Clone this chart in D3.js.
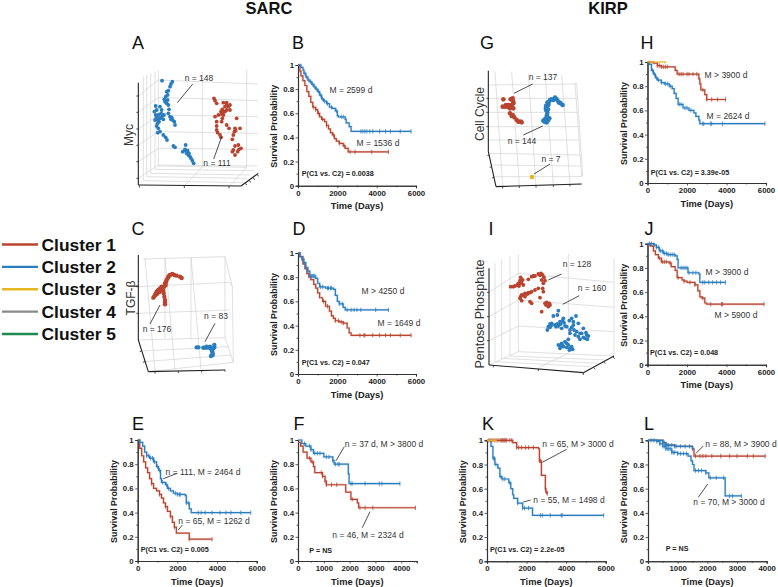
<!DOCTYPE html>
<html><head><meta charset="utf-8">
<script src="https://cdnjs.cloudflare.com/ajax/libs/d3/7.8.5/d3.min.js"></script>
<style>html,body{margin:0;padding:0;background:#fff}svg{display:block}text{font-family:"Liberation Sans",Arial,sans-serif;fill:#222}</style>
</head><body><svg id="c" width="778" height="587"></svg>
<script>
// ---- legend
const clusterNames=["Cluster 1","Cluster 2","Cluster 3","Cluster 4","Cluster 5"];
const clusterColors=["#b8442f","#2a7dbf","#e6b520","#8a8a8a","#1f8a4f"];
const [RED,BLUE,YEL]=clusterColors;
const yTicks=[0,0.2,0.4,0.6,0.8,1];
const xTicks6000=[0,2000,4000,6000];
const xTicks1000=[0,1000,2000,3000,4000];

// ---- survival curves: [days, probability]
const bBlue=[[0,1],[150,.98],[250,.96],[300,.93],[400,.9],[500,.875],[600,.86],[700,.84],[800,.82],[900,.8],[1000,.78],[1100,.75],[1200,.72],[1300,.7],[1450,.68],[1600,.65],[1750,.64],[1900,.62],[2000,.58],[2050,.57],[2400,.55],[2450,.52],[2600,.49],[2700,.45],[5750,.45]];
const bBlueCens=[350,450,550,650,750,850,950,1050,1150,1250,1350,1500,1700,1950,2200,2300,3200,3300,3400,3500,3650,3800,4150,4450,4700,5200,5750];
const bRed=[[0,1],[100,.95],[150,.91],[250,.87],[350,.83],[450,.78],[550,.74],[650,.69],[750,.65],[900,.63],[1000,.6],[1100,.57],[1200,.55],[1350,.53],[1450,.5],[1550,.47],[1650,.44],[1750,.42],[1850,.39],[1950,.37],[2100,.35],[2300,.33],[2400,.31],[2550,.28],[4600,.28]];
const bRedCens=[800,900,1050,1250,1450,1800,2100,2350,2650,2900,3750,4600];
const dBlue=[[0,1],[100,.97],[200,.95],[300,.92],[400,.88],[500,.85],[600,.81],[900,.79],[1000,.75],[1100,.72],[1400,.71],[1800,.7],[1900,.65],[2000,.6],[2100,.58],[2300,.55],[2400,.53],[4600,.53]];
const dBlueCens=[200,300,400,500,650,700,750,800,850,1150,1250,1500,1550,1650,1700,2100,2250,2500,2700,2850,3000,3200,3950,4600];
const dRed=[[0,1],[100,.97],[250,.91],[350,.87],[450,.83],[550,.8],[650,.78],[800,.74],[900,.71],[1000,.67],[1100,.63],[1250,.6],[1400,.56],[1600,.52],[1700,.48],[1800,.46],[1900,.44],[2100,.43],[2300,.42],[2500,.38],[2600,.34],[2700,.32],[5750,.32]];
const dRedCens=[1300,1500,1900,2050,2200,2300,3150,3350,3400,3800,4150,4450,4700,5200,5750];
const eBlue=[[0,1],[100,.98],[250,.95],[350,.9],[450,.87],[600,.85],[800,.82],[950,.78],[1050,.75],[1150,.68],[1200,.65],[1400,.63],[1500,.6],[1650,.58],[1800,.56],[2000,.55],[2400,.54],[2450,.48],[2600,.43],[2700,.4],[5700,.4]];
const eBlueCens=[450,550,650,750,850,1000,1100,1250,1450,1550,1900,2000,2100,2150,2450,2550,3050,3200,3400,3750,4150,4450,4700,5200,5700];
const eRed=[[0,1],[100,.93],[200,.87],[300,.82],[400,.77],[500,.73],[600,.68],[700,.64],[800,.6],[950,.58],[1100,.55],[1200,.52],[1300,.48],[1400,.45],[1500,.41],[1650,.37],[1750,.32],[1850,.28],[1950,.23],[2600,.18],[3750,.18]];
const eRedCens=[700,1100,1400,1650,1850,2600,3750];
const fBlue=[[0,1],[150,.97],[300,.95],[500,.92],[600,.89],[1000,.86],[1350,.83],[1400,.8],[1950,.72],[1980,.64],[3950,.64]];
const fBlueCens=[250,450,500,650,750,850,1100,1200,1350,1450,1550,1600,2050,2100,2600,3150,3250,3950];
const fRed=[[0,.98],[100,.95],[200,.9],[350,.85],[500,.82],[600,.78],[650,.73],[950,.7],[1050,.66],[1100,.63],[1850,.57],[2050,.51],[2300,.48],[2350,.44],[4550,.44]];
const fRedCens=[450,550,900,950,1050,1100,1300,1500,2100,2400,2600,2900,4550];
const hRed=[[0,1],[300,.99],[500,.97],[700,.96],[1400,.93],[1500,.9],[2600,.86],[2650,.82],[2700,.77],[2900,.73],[3000,.69],[3950,.69]];
const hRedCens=[500,600,700,800,900,1000,1600,1700,1800,2000,2100,2300,2500,2800,3000,3250,3550,3950];
const hBlue=[[0,1],[100,.98],[200,.93],[300,.9],[400,.87],[500,.85],[700,.83],[850,.82],[1100,.8],[1250,.78],[1350,.74],[1450,.7],[1550,.65],[1800,.62],[2100,.6],[2350,.58],[2450,.55],[2600,.52],[2650,.49],[5950,.49]];
const hBlueCens=[250,350,450,550,700,900,1000,1150,1600,1700,1900,2000,2200,2800,2850,3200,3250,3800,5950];
const hYellow=[[0,1],[900,1],[900,.99]];
const jBlue=[[0,1],[300,.99],[450,.97],[600,.94],[800,.92],[1000,.91],[1400,.9],[1500,.87],[1550,.8],[2000,.8],[2050,.76],[2600,.75],[2650,.68],[3950,.68]];
const jBlueCens=[100,200,350,450,550,650,750,850,950,1050,1150,1250,1350,1700,1800,1900,2000,2100,2300,2450,2800,2900,3100,3300,3500,3700,3950];
const jRed=[[0,1],[150,.98],[300,.94],[400,.91],[550,.88],[700,.85],[1100,.84],[1200,.81],[1400,.78],[1500,.72],[1750,.7],[1850,.69],[2000,.68],[2400,.66],[2550,.61],[2650,.56],[2750,.55],[2900,.51],[3000,.5],[5900,.5]];
const jRedCens=[600,750,850,950,1150,1550,1850,2150,2400,2800,3200,3750,3800,5900];
const kRed=[[0,1],[1300,.98],[1500,.94],[2600,.93],[2650,.83],[2750,.71],[2950,.6],[2980,.57],[3050,.56]];
const kRedCens=[100,200,300,400,500,600,700,750,800,850,900,950,1000,1150,1250,1500,1600,1750,1950,2100,2350,2650,2700,2950,3000,3050];
const kBlue=[[0,1],[200,.95],[300,.85],[400,.8],[550,.77],[650,.7],[750,.68],[1100,.65],[1200,.6],[1300,.55],[1350,.52],[1550,.48],[1800,.44],[2300,.38],[5900,.38]];
const kBlueCens=[320,380,450,700,800,900,1150,1550,1800,1900,2100,2700,2800,3200,3750,3800,5900];
const kYellow=[[0,1],[500,1]];
const lRed=[[0,1],[500,.98],[600,.96],[900,.95],[1500,.93],[1550,.87],[3950,.87]];
const lRedCens=[1600,1750,1850,1950,2150,2450,2750,3000,3350,3550,3950];
const lBlue=[[0,1],[300,.99],[400,.97],[500,.95],[600,.93],[800,.9],[1000,.89],[1350,.87],[1450,.83],[1500,.8],[1550,.75],[1950,.73],[2050,.69],[2600,.54],[3150,.54]];
const lBlueCens=[100,200,300,400,500,550,600,650,700,750,800,850,900,1000,1100,1200,1300,1600,1700,1800,1950,2100,2300,2550,2750,2850,3150];
const lBlueUpper=[[0,1],[500,.98],[600,.96],[900,.95],[1500,.93],[1540,.93]];
const lBlueUpperCens=[550,650,700,800,900,950,1100,1250,1400,1500];

// ---- 3D scatter clouds: projected positions
const aBlue=[[141,62],[172,65],[168,72],[165,80],[160,92],[155,95],[158,105],[152,110],[148,118],[158,120],[150,125],[155,130],[122,138],[118,155],[125,150],[135,140],[140,150],[138,160],[130,165],[142,168],[125,172],[135,175],[120,180],[128,180],[138,172],[132,185],[145,178],[160,160],[165,170],[170,172],[173,180],[178,185],[180,195],[168,178],[160,135],[162,148],[125,198],[130,205],[135,215],[128,218],[145,225],[152,232],[156,240],[175,258],[180,262],[212,255],[210,268],[203,275],[212,272],[218,272],[222,280],[225,290],[228,295],[232,302],[236,310],[220,285],[215,280],[128,190],[122,165],[147,165]];
const aRed=[[297,115],[300,122],[305,130],[325,128],[335,128],[345,135],[340,140],[330,140],[322,148],[318,155],[335,150],[345,150],[330,155],[320,162],[325,165],[300,170],[310,165],[322,175],[365,175],[305,185],[320,185],[305,198],[335,195],[342,205],[360,205],[375,205],[305,210],[308,218],[315,225],[318,232],[355,225],[352,238],[370,255],[378,265],[360,258],[355,270],[352,275],[360,285],[368,275],[372,268],[335,135],[325,155],[362,212],[358,215]];
const cRed=[[115,158],[118,154],[120,150],[123,145],[125,140],[128,137],[130,135],[135,130],[140,130],[142,132],[148,125],[150,115],[153,110],[155,105],[158,100],[160,95],[163,92],[165,90],[172,87],[178,90],[185,92],[195,95],[200,99],[145,138],[146,145],[148,155],[150,165],[150,172],[150,178],[135,138],[125,148],[152,120],[140,125],[132,142]];
const cBlue=[[245,307],[250,307],[265,308],[270,308],[278,308],[285,305],[298,300],[295,310],[292,320],[293,330],[288,333],[275,305],[290,315],[298,307],[287,310],[293,325]];
const gRed=[[100,118],[98,140],[105,140],[112,140],[120,145],[125,135],[130,130],[122,118],[128,115],[130,125],[115,135],[108,135],[120,160],[125,168],[133,172],[140,180],[145,185],[152,185],[155,187],[130,145],[128,165],[118,142]];
const gBlue=[[220,182],[225,178],[230,187],[235,180],[230,170],[232,158],[228,145],[235,135],[232,128],[240,120],[245,118],[250,120],[255,113],[260,118],[265,125],[272,130],[278,135],[228,150],[238,175],[225,186],[231,165],[234,148],[228,138],[236,128],[268,128]];
const gYellow=[[186,351]];
const iRed=[[122,110],[130,110],[135,108],[145,100],[152,82],[150,92],[158,90],[155,100],[147,108],[160,105],[175,88],[185,80],[195,78],[205,72],[213,70],[218,75],[222,82],[225,92],[215,90],[220,100],[205,115],[195,120],[185,125],[175,128],[165,130],[155,135],[150,145],[155,152],[165,140],[172,132],[180,155],[185,160],[210,143],[220,125],[218,115],[230,157],[238,160],[235,170],[228,165],[215,185],[240,165],[150,98],[142,105],[190,78],[210,76],[180,128],[160,135],[152,140],[225,160]];
const iBlue=[[265,182],[262,195],[250,198],[240,222],[235,230],[232,240],[245,225],[255,225],[262,222],[270,215],[278,212],[280,205],[290,230],[300,240],[305,205],[318,198],[325,220],[310,225],[320,245],[300,250],[315,255],[325,260],[340,235],[348,248],[355,258],[352,268],[340,262],[330,268],[295,268],[285,275],[275,280],[265,285],[270,295],[280,290],[290,292],[300,295],[308,298],[305,290],[295,285],[285,228],[275,235],[245,220],[258,230],[335,250],[272,222],[282,218],[298,212],[310,215],[305,232],[312,240],[330,250],[345,265],[350,255],[290,280],[278,286],[272,288],[298,300],[303,298],[240,232],[265,228]];

// ---- 3D box lines (same projected units)
const aGrid=[[130,30,130,318],[85,50,85,360],[95,45,95,350],[107,40,107,340],[120,35,120,328],[262,35,262,322],[395,30,395,322],[130,60,428,72],[130,112,428,122],[130,165,428,170],[130,215,428,220],[130,265,428,268],[130,315,428,318],[70,108,130,60],[70,157,130,112],[70,207,130,165],[70,256,130,215],[70,305,130,265],[70,355,130,315],[130,318,395,322],[208,378,262,320],[342,380,395,322],[85,362,385,368],[95,350,395,355],[107,340,405,345],[120,328,418,332]];
const aAxes=[[70,68,70,375],[70,375,378,378],[378,378,430,340]];
const aTicks=[[70,108,64,108],[70,157,64,157],[70,207,64,207],[70,256,64,256],[70,305,64,305],[70,355,64,355],[73,376,73,383],[208,377,208,384],[342,378,342,385],[390,370,396,375],[402,362,408,367],[414,354,420,359],[426,344,432,349]];
const cGrid=[[85,42,330,35],[330,35,352,125],[352,125,355,352],[70,125,345,112],[345,112,352,125],[70,205,345,195],[70,285,330,278],[330,278,355,352],[78,318,340,305],[88,350,348,330],[100,380,355,352],[150,38,180,375],[228,38,258,372],[330,35,330,278],[90,40,120,378],[150,38,150,280],[228,38,228,282]];
const cAxes=[[70,30,70,285],[70,285,100,380],[100,380,330,375]];
const cTicks=[[70,125,64,125],[70,205,64,205],[80,318,74,320],[90,350,84,352],[120,380,120,386],[190,378,190,384],[260,376,260,382],[330,374,330,380]];
const gGrid=[[55,75,318,72],[55,115,320,115],[55,157,322,157],[55,200,325,200],[55,240,328,240],[60,280,330,285],[65,315,332,318],[72,350,335,350],[315,68,335,350],[320,68,338,348],[75,35,98,378],[125,35,148,378],[175,40,198,378],[225,40,250,375],[275,45,300,372],[78,378,335,372]];
const gAxes=[[55,32,55,275],[55,275,78,380],[78,380,335,372]];
const gTicks=[[55,115,49,115],[55,157,49,157],[55,200,49,200],[58,285,52,287],[65,320,59,322],[72,352,66,354],[98,380,98,386],[148,378,148,384],[198,377,198,383],[250,375,250,381],[300,373,300,379]];
const iGrid=[[145,12,145,305],[75,40,75,335],[95,28,95,325],[120,18,120,318],[295,12,295,310],[432,25,432,318],[145,70,432,97],[145,150,432,172],[145,228,432,245],[145,305,432,318],[57,127,145,70],[57,200,145,150],[57,272,145,228],[57,345,145,305],[205,352,295,310],[75,335,360,350],[95,325,385,340],[120,318,410,330]];
const iAxes=[[57,55,57,345],[57,345,340,368],[340,368,432,318]];
const iTicks=[[57,127,51,127],[57,200,51,200],[57,272,51,272],[70,346,70,352],[205,357,205,363],[340,368,340,375],[370,352,376,358],[400,335,406,341],[428,320,434,326]];

const svg=d3.select("#c");

// ---- titles and legend
const pageTitles=[["SARC",269],["KIRP",608]];
svg.selectAll(".ttl").data(pageTitles).join("text").attr("x",d=>d[1]).attr("y",14).attr("text-anchor","middle")
  .attr("font-size",16.5).attr("font-weight","bold").style("fill","#111").text(d=>d[0]);
const legY=d3.scalePoint().domain(clusterNames).range([244.5,334]);
clusterNames.forEach((n,i)=>{
  svg.append("line").attr("x1",2).attr("x2",38).attr("y1",legY(n)).attr("y2",legY(n)).attr("stroke",clusterColors[i]).attr("stroke-width",2.4);
  svg.append("text").attr("x",41.5).attr("y",legY(n)+6).attr("font-size",17.4).attr("font-weight","bold").style("fill","#111").text(n);
});
const letters=[["A",138,42],["B",298,42],["C",138,228],["D",299,228],["E",138,423],["F",299,423],["G",487,42],["H",647,42],["I",491,228],["J",649,228],["K",488,423],["L",649,423]];
svg.selectAll(".let").data(letters).join("text").attr("x",d=>d[1]).attr("y",d=>d[2]+6.5).attr("text-anchor","middle")
  .attr("font-size",18).style("fill","#111").text(d=>d[0]);

// ---- 3D panels
function scatter3d(o){
  const g=svg.append("g");
  const x=d3.scaleLinear().domain([0,o.w*3]).range([o.ox,o.ox+o.w]);
  const y=d3.scaleLinear().domain([0,o.h*3]).range([o.oy,o.oy+o.h]);
  const seg=(arr,col,sw)=>g.append("g").selectAll("line").data(arr).join("line")
    .attr("x1",d=>x(d[0])).attr("y1",d=>y(d[1])).attr("x2",d=>x(d[2])).attr("y2",d=>y(d[3]))
    .attr("stroke",col).attr("stroke-width",sw);
  seg(o.grid,"#d2d2d2",.7);
  seg(o.axes,"#222",1.1);
  seg(o.ticks,"#222",.8);
  o.clouds.forEach(c=>g.append("g").selectAll("circle").data(c.pts).join("circle")
    .attr("cx",d=>x(d[0])).attr("cy",d=>y(d[1])).attr("r",c.r||o.r).attr("fill",c.col));
  g.append("text").attr("transform",`translate(${o.lab[1]},${o.lab[2]}) rotate(-90)`).attr("text-anchor","middle")
    .attr("dy","0.35em").attr("font-size",o.lab[3]).style("fill","#333").text(o.lab[0]);
}
scatter3d({ox:115,oy:60,w:155,h:140,r:1.9,grid:aGrid,axes:aAxes,ticks:aTicks,lab:["Myc",129,135,12],clouds:[{pts:aBlue,col:BLUE},{pts:aRed,col:RED}]});
scatter3d({ox:115,oy:245,w:130,h:130,r:2.2,grid:cGrid,axes:cAxes,ticks:cTicks,lab:["TGF-β",131,298,12],clouds:[{pts:cRed,col:RED},{pts:cBlue,col:BLUE}]});
scatter3d({ox:470,oy:60,w:125,h:135,r:2.3,grid:gGrid,axes:gAxes,ticks:gTicks,lab:["Cell Cycle",480,114,12],clouds:[{pts:gRed,col:RED},{pts:gBlue,col:BLUE},{pts:gYellow,col:YEL}]});
scatter3d({ox:470,oy:250,w:150,h:130,r:1.9,grid:iGrid,axes:iAxes,ticks:iTicks,lab:["Pentose Phosphate",480,314,12.5],clouds:[{pts:iRed,col:RED},{pts:iBlue,col:BLUE}]});

// ---- survival panels
function km(o){
  const g=svg.append("g");
  const xmax=o.xmax||6000;
  const x=d3.scaleLinear().domain([0,xmax]).range([o.x0,o.x1]);
  const y=d3.scaleLinear().domain([0,1]).range([o.y0,o.y1]);
  const line=d3.line().curve(d3.curveStepAfter).x(d=>x(d[0])).y(d=>y(d[1]));
  const ticksX=o.xt||xTicks6000;
  g.append("g").attr("transform",`translate(0,${o.y0})`)
    .call(d3.axisBottom(x).tickValues(ticksX).tickSizeOuter(0).tickSize(2.5).tickPadding(2).tickFormat(d3.format("d")));
  g.append("g").attr("transform",`translate(${o.x0},0)`)
    .call(d3.axisLeft(y).tickValues(yTicks).tickSizeOuter(0).tickSize(2.5).tickPadding(1.5).tickFormat(d=>d));
  g.append("g").attr("transform",`translate(${o.x0},0)`)
    .call(d3.axisLeft(y).tickValues(d3.range(0.1,1,0.2)).tickSizeOuter(0).tickSize(1.5).tickFormat(""));
  g.append("g").attr("transform",`translate(0,${o.y0})`)
    .call(d3.axisBottom(x).tickValues(d3.range(ticksX[1]/2,xmax,ticksX[1])).tickSizeOuter(0).tickSize(1.5).tickFormat(""));
  g.selectAll(".domain").attr("stroke","#333").attr("stroke-width",1.1);
  g.selectAll(".tick line").attr("stroke","#333").attr("stroke-width",.8);
  g.selectAll(".tick text").attr("font-family",'"Liberation Sans",Arial,sans-serif').attr("font-size",7.8).attr("font-weight","bold").style("fill","#222");
  o.curves.forEach(c=>{
    g.append("path").attr("d",line(c.pts)).attr("fill","none").attr("stroke",c.col).attr("stroke-width",2.4).attr("stroke-opacity",.22);
    g.append("path").attr("d",line(c.pts)).attr("fill","none").attr("stroke",c.col).attr("stroke-width",1.2);
    const at=t=>{let s=c.pts[0][1];for(const p of c.pts){if(p[0]<=t)s=p[1];}return s;};
    g.append("g").selectAll("line").data(c.cens||[]).join("line")
      .attr("x1",d=>x(d)).attr("x2",d=>x(d)).attr("y1",d=>y(at(d))-2.2).attr("y2",d=>y(at(d))+2.2)
      .attr("stroke",c.col).attr("stroke-width",.8);
  });
  g.append("text").attr("x",(o.x0+o.x1)/2).attr("y",o.y0+23.5).attr("text-anchor","middle").attr("font-size",9.3).attr("font-weight","bold").text("Time (Days)");
  g.append("text").attr("transform",`translate(${o.x0-21},${(o.y0+o.y1)/2+1}) rotate(-90)`).attr("text-anchor","middle").attr("font-size",8.9).attr("font-weight","bold").text("Survival Probability");
  g.append("text").attr("x",o.p[1]).attr("y",o.p[2]+2.5).attr("font-size",7.2).attr("font-weight","bold").text(o.p[0]);
}
const left1=298,right1=416,left2=647.5,right2=766;
km({x0:left1,x1:right1,y0:185.7,y1:65,p:["P(C1 vs. C2) = 0.0038",301.7,173.3],curves:[{pts:bRed,cens:bRedCens,col:RED},{pts:bBlue,cens:bBlueCens,col:BLUE}]});
km({x0:left1,x1:right1,y0:374,y1:253,p:["P(C1 vs. C2) = 0.047",301.7,362],curves:[{pts:dRed,cens:dRedCens,col:RED},{pts:dBlue,cens:dBlueCens,col:BLUE}]});
km({x0:137.7,x1:256.7,y0:561,y1:440,p:["P(C1 vs. C2) = 0.005",140.7,549],curves:[{pts:eRed,cens:eRedCens,col:RED},{pts:eBlue,cens:eBlueCens,col:BLUE}]});
km({x0:298,x1:416.7,y0:561,y1:440,xmax:4600,xt:xTicks1000,p:["P = NS",309.3,550],curves:[{pts:fRed,cens:fRedCens,col:RED},{pts:fBlue,cens:fBlueCens,col:BLUE}]});
km({x0:left2,x1:right2,y0:183,y1:62,p:["P(C1 vs. C2) = 3.39e-05",650.7,172.7],curves:[{pts:hBlue,cens:hBlueCens,col:BLUE},{pts:hRed,cens:hRedCens,col:RED},{pts:hYellow,col:YEL}]});
km({x0:left2,x1:right2,y0:364.7,y1:243.7,p:["P(C1 vs. C2) = 0.048",650,352.3],curves:[{pts:jRed,cens:jRedCens,col:RED},{pts:jBlue,cens:jBlueCens,col:BLUE}]});
km({x0:487,x1:605.7,y0:561.3,y1:440.3,p:["P(C1 vs. C2) = 2.2e-05",490,549],curves:[{pts:kBlue,cens:kBlueCens,col:BLUE},{pts:kRed,cens:kRedCens,col:RED},{pts:kYellow,col:YEL}]});
km({x0:648,x1:766.7,y0:561.3,y1:440.3,xmax:4000,xt:xTicks1000,p:["P = NS",665.7,548.3],curves:[{pts:lRed,cens:lRedCens,col:RED},{pts:lBlue,cens:lBlueCens,col:BLUE},{pts:lBlueUpper,cens:lBlueUpperCens,col:BLUE}]});

// ---- annotations
const notes=[["n = 148",199,78],["n = 111",217,163],["M = 2599 d",351,90],["M = 1536 d",378,143],
["n = 176",157,329],["n = 83",216,316],["M > 4250 d",383,291],["M = 1649 d",399,323],
["n = 111, M = 2464 d",203,472],["n = 65, M = 1262 d",214,521],["n = 37 d, M > 3800 d",384,444],["n = 46, M = 2324 d",368,535],
["n = 137",543,77],["n = 144",522,141],["n = 7",551,159],["M > 3900 d",726,75],["M = 2624 d",728,116],
["n = 128",577,264],["n = 160",592,288],["M > 3900 d",727,272],["M > 5900 d",736,315],
["n = 65, M > 3000 d",578,444],["n = 55, M = 1498 d",569,500],["n = 88, M > 3900 d",741,444],["n = 70, M > 3000 d",729,502]];
svg.selectAll(".note").data(notes).join("text").attr("x",d=>d[1]).attr("y",d=>d[2]+3).attr("text-anchor","middle")
  .attr("font-size",8.5).style("fill","#333").text(d=>d[0]);
const leaders=[[192.7,84,177.3,102.7],[221.7,136.7,213.7,159],[160,305,150,324],[215,323.3,205,341.7],[177.3,473.3,163.3,478.7],[182.3,525,178.3,530],[344.3,446.7,336,460.7],[370,511.7,362.3,527.7],[532.7,84,514,93.3],[542.7,126,523.3,135],[550,164,534,174],[561.7,274,548.3,280],[579.3,295.7,562.7,304.3],[566.7,449.3,542.3,462.3],[530.7,500,523.3,502],[703.3,446,696,453.3],[707.7,484,698.3,497.3]];
svg.selectAll(".lead").data(leaders).join("line").attr("x1",d=>d[0]).attr("y1",d=>d[1]).attr("x2",d=>d[2]).attr("y2",d=>d[3]).attr("stroke","#222").attr("stroke-width",.8);
</script></body></html>
